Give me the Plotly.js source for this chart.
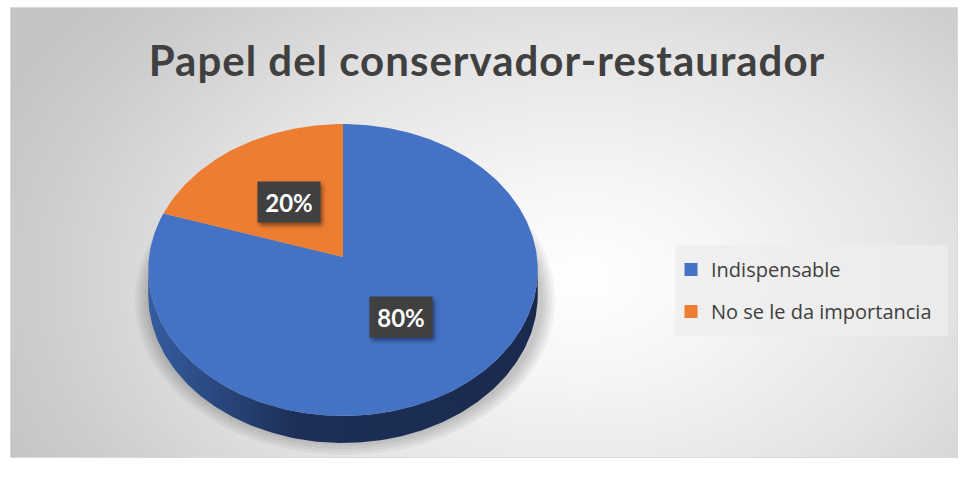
<!DOCTYPE html>
<html><head><meta charset="utf-8">
<script src="https://cdn.plot.ly/plotly-3.0.1.min.js"></script>
<style>
html,body{margin:0;padding:0;background:#fff;}
#wrap{position:relative;width:965px;height:484px;overflow:hidden;background:#fff;}
#box{position:absolute;left:10px;top:7px;width:948px;height:451px;box-sizing:border-box;
 border:1px solid #d9d9d9;
 background: radial-gradient(ellipse 640px 430px at 570px 270px, #ffffff 0%, #f6f6f6 22%, #e4e4e4 55%, #cdcdcd 85%, #c4c4c4 100%);}
#chart{position:absolute;left:0;top:0;width:965px;height:484px;}
.annotation .bg{filter:drop-shadow(2px 3px 2px rgba(0,0,0,0.45));}
.gtitle{letter-spacing:1px;}
</style></head>
<body><div id="wrap"><div id="box"></div><div id="chart"></div></div>
<script>
// ---- data ----
const categories = ['Indispensable', 'No se le da importancia'];
const values = [80, 20];
const sliceColors = ['#4472c4', '#ed7d31'];
const chartTitle = 'Papel del conservador-restaurador';

// ---- 3D pie geometry (pixel units on the hidden axes) ----
const G = {cx: 343, cy: 257, rx: 194, ry: 144.8, k: 0.089, h: 24.6, labelR: 0.49};
const sideScales = [
  [[0, '#355ca0'], [0.38, '#1d2f57'], [1, '#1a2a4e']],
  [[0, '#b85f22'], [0.38, '#8a4416'], [1, '#7a3b12']]
];
function proj(deg, p, depth) {
  const t = deg * Math.PI / 180;
  const u = p * Math.sin(t), v = p * Math.cos(t);
  const f = 1 / (1 + G.k * v);
  return [G.cx + G.rx * u * f, G.cy - G.ry * v * f + (depth || 0) * f];
}
const total = values.reduce((a, b) => a + b, 0);
let acc = 0;
const slices = values.map((v, i) => {
  const a0 = acc / total * 360; acc += v; const a1 = acc / total * 360;
  return {i, a0, a1, mid: (a0 + a1) / 2, pct: Math.round(v / total * 100) + '%'};
});
const thS = Math.acos(-G.k) * 180 / Math.PI;   // silhouette angle
const traces = [];
// side walls
slices.forEach(s => {
  const b0 = Math.max(s.a0, thS), b1 = Math.min(s.a1, 360 - thS);
  if (b1 <= b0) return;
  const xs = [], ys = [];
  const n = Math.max(2, Math.ceil(b1 - b0));
  for (let j = 0; j <= n; j++) { const a = b0 + (b1 - b0) * j / n; const q = proj(a, 1, 0); xs.push(q[0]); ys.push(q[1]); }
  for (let j = n; j >= 0; j--) { const a = b0 + (b1 - b0) * j / n; const q = proj(a, 1, G.h); xs.push(q[0]); ys.push(q[1]); }
  xs.push(xs[0]); ys.push(ys[0]);
  traces.push({type: 'scatter', x: xs, y: ys, mode: 'lines', fill: 'toself', line: {width: 0},
    fillgradient: {type: 'horizontal', colorscale: sideScales[s.i]},
    hoverinfo: 'skip', showlegend: false});
});
// top faces
slices.forEach(s => {
  const xs = [G.cx], ys = [G.cy];
  const n = Math.max(2, Math.ceil(s.a1 - s.a0));
  for (let j = 0; j <= n; j++) { const q = proj(s.a0 + (s.a1 - s.a0) * j / n, 1, 0); xs.push(q[0]); ys.push(q[1]); }
  xs.push(G.cx); ys.push(G.cy);
  traces.push({type: 'scatter', x: xs, y: ys, mode: 'lines', fill: 'toself', fillcolor: sliceColors[s.i],
    line: {width: 0}, name: categories[s.i], legendgroup: 'g' + s.i, showlegend: false,
    hoverinfo: 'name'});
});
// legend entries
slices.forEach(s => {
  traces.push({type: 'scatter', x: [null], y: [null], mode: 'markers', name: categories[s.i],
    legendgroup: 'g' + s.i, marker: {symbol: 'square', size: 13, color: sliceColors[s.i], line: {width: 0}}});
});
// data labels
const annotations = slices.map(s => {
  const q = proj(s.mid, G.labelR, 0);
  return {x: q[0], y: q[1], xref: 'x', yref: 'y', text: s.pct, showarrow: false,
    bgcolor: '#404040', borderpad: 6, width: 50, height: 28,
    font: {family: 'Lato, sans-serif', size: 24, color: '#ffffff', weight: 700}};
});
// soft shadow under the pie
const shapes = [];
for (let j = 0; j < 5; j++) {
  const rx = 198 + j * 3, ry = 143 + j * 3;
  shapes.push({type: 'circle', xref: 'x', yref: 'y', x0: 345 - rx, x1: 345 + rx, y0: 300 - ry, y1: 300 + ry,
    fillcolor: 'rgba(0,0,0,0.045)', line: {width: 0}, layer: 'below'});
}
// legend backdrop
shapes.push({type: 'rect', xref: 'paper', yref: 'paper', x0: 675 / 965, x1: 948 / 965, y0: 1 - 336 / 484, y1: 1 - 245 / 484,
  fillcolor: 'rgba(238,238,238,0.8)', line: {width: 0}, layer: 'below'});

const layout = {
  width: 965, height: 484,
  margin: {l: 0, r: 0, t: 0, b: 0, autoexpand: false},
  paper_bgcolor: 'rgba(0,0,0,0)', plot_bgcolor: 'rgba(0,0,0,0)',
  title: {text: chartTitle, x: 487 / 965, xanchor: 'center', y: 1 - 61 / 484, yanchor: 'middle', yref: 'container',
    font: {family: 'Lato, sans-serif', size: 42, color: '#404040', weight: 700}},
  xaxis: {range: [0, 965], visible: false, fixedrange: true},
  yaxis: {range: [484, 0], visible: false, fixedrange: true},
  showlegend: true,
  legend: {x: 671 / 965, xanchor: 'left', y: 1 - 250 / 484, yanchor: 'top', bgcolor: 'rgba(0,0,0,0)',
    traceorder: 'grouped', tracegroupgap: 13,
    font: {family: 'Open Sans, sans-serif', size: 20, color: '#404040'}},
  annotations: annotations,
  shapes: shapes,
  hovermode: false
};
Plotly.newPlot('chart', traces, layout, {displayModeBar: false, staticPlot: true});
</script>
</body></html>
